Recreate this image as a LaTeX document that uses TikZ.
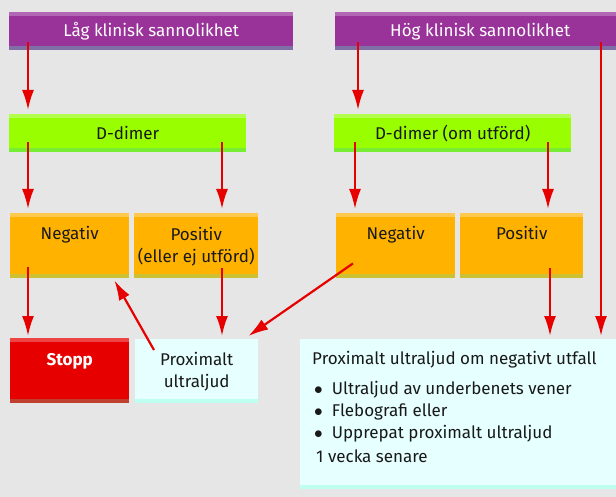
\documentclass[tikz,border=0pt]{standalone}
\usepackage{fontspec}
\setmainfont{Fira Sans}
\usetikzlibrary{arrows.meta}
\definecolor{bg}{HTML}{E6E6E6}
\definecolor{lila}{HTML}{993399}
\definecolor{lilatop}{HTML}{B366B3}
\definecolor{lilabot}{HTML}{7F6FA6}
\definecolor{gron}{HTML}{99FF00}
\definecolor{grontop}{HTML}{B3FF4D}
\definecolor{gronbot}{HTML}{77EE33}
\definecolor{orange}{HTML}{FFB300}
\definecolor{orangetop}{HTML}{FFC94D}
\definecolor{orangebot}{HTML}{CCC033}
\definecolor{rod}{HTML}{E60000}
\definecolor{rodtop}{HTML}{EE4444}
\definecolor{rodbot}{HTML}{C04030}
\definecolor{ljus}{HTML}{E6FFFF}
\definecolor{ljusbot}{HTML}{BFFFEF}
\definecolor{pil}{HTML}{E60000}
\newcommand{\punkt}{\hspace{2pt}$\bullet$\hspace{9pt}}

\begin{document}
\begin{tikzpicture}[x=1pt,y=-1pt,->,>={Latex[length=20pt,width=12pt]},
    font=\fontsize{17}{22}\selectfont,
    box/.style n args={3}{rectangle,anchor=north west,inner sep=0pt,fill=#1,
      path picture={
        \fill[#2] (path picture bounding box.north west) rectangle ([yshift=-4pt]path picture bounding box.north east);
        \fill[#3] (path picture bounding box.south west) rectangle ([yshift=4pt]path picture bounding box.south east);}},
    rubrik/.style={box={lila}{lilatop}{lilabot},minimum width=#1,minimum height=38pt,text=white},
    dimer/.style={box={gron}{grontop}{gronbot},minimum width=237pt,minimum height=38pt,text=black!90},
    svar/.style={box={orange}{orangetop}{orangebot},minimum width=#1,minimum height=65pt},
    txt/.style={anchor=base,align=center,text=black!90},
    pil/.style={draw=pil,line width=2.2pt}]
  \fill[bg] (0,0) rectangle (616,497);
  \useasboundingbox (0,0) rectangle (616,497);

  % rubriker
  \node[rubrik=284pt] (lag) at (9,12) {Låg klinisk sannolikhet};
  \node[rubrik=290pt] (hog) at (335,12) {Hög klinisk sannolikhet};

  % D-dimer
  \node[dimer] (ddL) at (9,114) {D-dimer};
  \node[dimer] (ddR) at (334,114) {D-dimer (om utförd)};

  % svar
  \node[svar=119pt] (negL) at (10,213) {};
  \node[svar=124pt] (posL) at (134,213) {};
  \node[svar=119pt] (negR) at (336,213) {};
  \node[svar=123pt] (posR) at (460,213) {};
  \node[txt] (negLtxt) at ([yshift=-27pt]negL.north) {Negativ};
  \node[txt] (posLtxt) at ([yshift=-49pt]posL.north) {Positiv\\(eller ej utförd)};
  \node[txt] (negRtxt) at ([yshift=-27pt]negR.north) {Negativ};
  \node[txt] (posRtxt) at ([yshift=-27pt]posR.north) {Positiv};

  % utfall
  \node[box={rod}{rodtop}{rodbot},minimum width=119pt,minimum height=65pt] (stopp) at (10,338) {};
  \node[txt,text=white,font=\fontsize{17}{22}\selectfont\bfseries] (stopptxt) at ([yshift=-27pt]stopp.north) {Stopp};
  \node[box={ljus}{ljus}{ljusbot},minimum width=123pt,minimum height=64pt] (prox) at (135,339) {};
  \node[txt] (proxtxt) at ([yshift=-48pt]prox.north) {Proximalt\\ultraljud};
  \node[box={ljus}{ljus}{ljusbot},minimum width=316pt,minimum height=150pt] (stor) at (300,339) {};
  \node[anchor=base west,align=left,text=black!90,inner sep=0pt] (stortxt) at ([xshift=12pt,yshift=-123pt]stor.north west)
    {Proximalt ultraljud om negativt utfall\\[8pt]
     \punkt Ultraljud av underbenets vener\\
     \punkt Flebografi eller\\
     \punkt Upprepat proximalt ultraljud\\[2pt]
     \hspace{4pt}1 vecka senare};

  % pilar
  \draw[pil] ([xshift=19pt,yshift=8pt]lag.south west) -- ([xshift=19pt,yshift=4pt]ddL.north west);
  \draw[pil] ([xshift=19pt,yshift=10pt]ddL.south west) -- ([xshift=18pt,yshift=4pt]negL.north west);
  \draw[pil] ([xshift=213pt,yshift=10pt]ddL.south west) -- ([xshift=88pt,yshift=4pt]posL.north west);
  \draw[pil] ([xshift=18pt,yshift=11pt]negL.south west) -- ([xshift=18pt,yshift=2pt]stopp.north west);
  \draw[pil] ([xshift=88pt,yshift=10pt]posL.south west) -- ([xshift=87pt,yshift=3pt]prox.north west);
  \draw[pil] ([xshift=19pt,yshift=-11pt]prox.north west) -- ([xshift=-15pt,yshift=-2pt]negL.south east);
  \draw[pil] ([xshift=17pt,yshift=15pt]negR.south west) -- ([xshift=-10pt,yshift=3pt]prox.north east);
  \draw[pil] ([xshift=23pt,yshift=8pt]hog.south west) -- ([xshift=24pt,yshift=4pt]ddR.north west);
  \draw[pil] ([xshift=266pt,yshift=8pt]hog.south west) -- ([xshift=301pt,yshift=3pt]stor.north west);
  \draw[pil] ([xshift=21pt,yshift=10pt]ddR.south west) -- ([xshift=19pt,yshift=4pt]negR.north west);
  \draw[pil] ([xshift=214pt,yshift=10pt]ddR.south west) -- ([xshift=88pt,yshift=4pt]posR.north west);
  \draw[pil] ([xshift=90pt,yshift=10pt]posR.south west) -- ([xshift=250pt,yshift=3pt]stor.north west);
\end{tikzpicture}
\end{document}
